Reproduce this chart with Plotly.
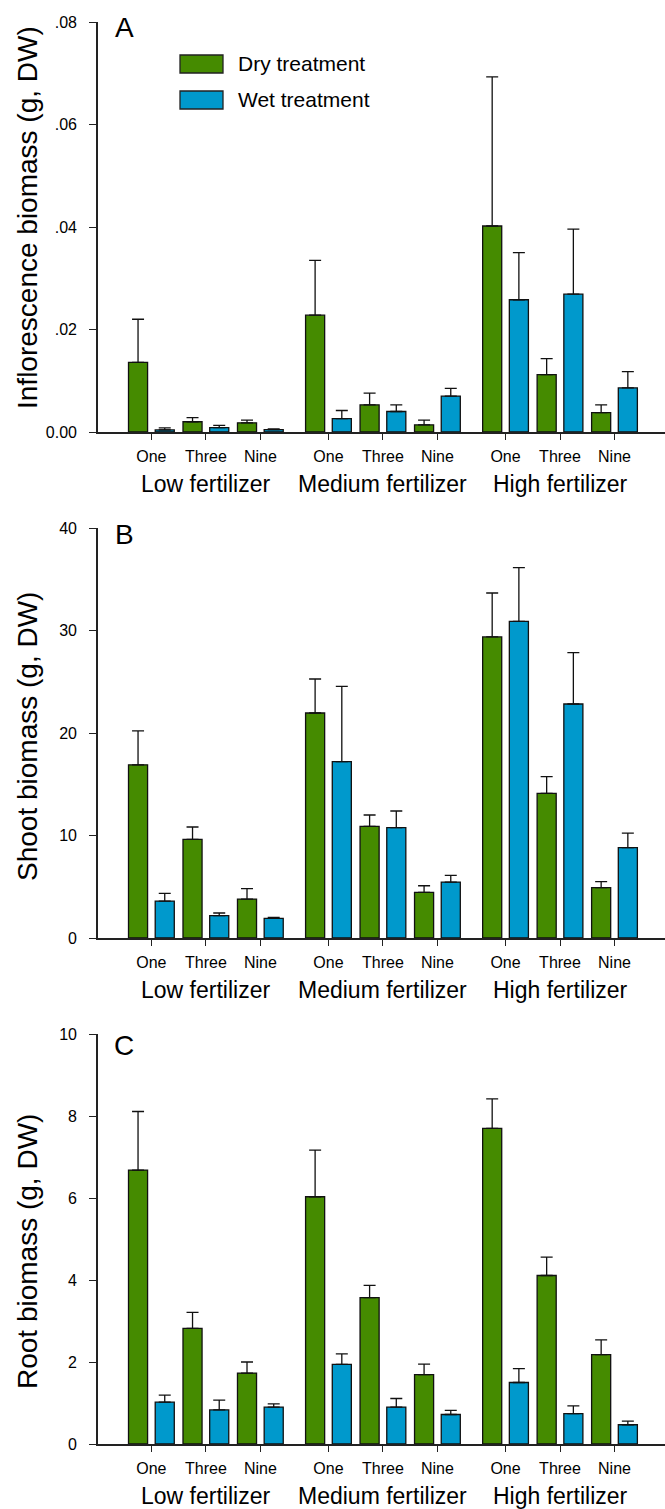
import plotly.graph_objects as go

# ---------------- data ----------------
fertilizers = ["Low fertilizer", "Medium fertilizer", "High fertilizer"]
levels = ["One", "Three", "Nine"]

# Panel A: inflorescence biomass (g, DW)
infl_dry = [0.0136, 0.0020, 0.0018, 0.0228, 0.0053, 0.0014, 0.0402, 0.0112, 0.0038]
infl_dry_top = [0.0220, 0.0028, 0.0023, 0.0335, 0.0076, 0.0023, 0.0693, 0.0143, 0.0053]
infl_wet = [0.0004, 0.00085, 0.00045, 0.0026, 0.0040, 0.0070, 0.0258, 0.0269, 0.0086]
infl_wet_top = [0.0008, 0.0013, 0.0006, 0.0042, 0.0053, 0.0085, 0.0350, 0.0396, 0.0118]

# Panel B: shoot biomass (g, DW)
shoot_dry = [16.9, 9.63, 3.80, 21.95, 10.9, 4.46, 29.37, 14.11, 4.91]
shoot_dry_top = [20.2, 10.83, 4.81, 25.27, 12.0, 5.10, 33.66, 15.74, 5.50]
shoot_wet = [3.60, 2.18, 1.92, 17.2, 10.76, 5.46, 30.9, 22.83, 8.81]
shoot_wet_top = [4.36, 2.44, 2.00, 24.55, 12.39, 6.11, 36.13, 27.84, 10.24]

# Panel C: root biomass (g, DW)
root_dry = [6.68, 2.82, 1.73, 6.03, 3.57, 1.69, 7.70, 4.11, 2.18]
root_dry_top = [8.11, 3.21, 2.00, 7.17, 3.87, 1.95, 8.42, 4.56, 2.54]
root_wet = [1.02, 0.83, 0.90, 1.94, 0.90, 0.72, 1.50, 0.74, 0.47]
root_wet_top = [1.19, 1.07, 0.98, 2.20, 1.11, 0.82, 1.84, 0.93, 0.56]

panels = [
    dict(letter="A", title="Inflorescence biomass (g, DW)", dry=infl_dry, dry_top=infl_dry_top,
         wet=infl_wet, wet_top=infl_wet_top, rng=[0, 0.08],
         tickvals=[0, 0.02, 0.04, 0.06, 0.08], ticktext=["0.00", ".02", ".04", ".06", ".08"]),
    dict(letter="B", title="Shoot biomass (g, DW)", dry=shoot_dry, dry_top=shoot_dry_top,
         wet=shoot_wet, wet_top=shoot_wet_top, rng=[0, 40],
         tickvals=[0, 10, 20, 30, 40], ticktext=["0", "10", "20", "30", "40"]),
    dict(letter="C", title="Root biomass (g, DW)", dry=root_dry, dry_top=root_dry_top,
         wet=root_wet, wet_top=root_wet_top, rng=[0, 10],
         tickvals=[0, 2, 4, 6, 8, 10], ticktext=["0", "2", "4", "6", "8", "10"]),
]

GREEN = "#458B00"
BLUE = "#0099CC"
FONT = "Liberation Sans, Arial, sans-serif"

W, H = 665, 1509
ML, MR, MT, MB = 98, 0, 22, 65
PW = W - ML
plot_h = H - MT - MB
# panel pixel extents (top, bottom) in page coordinates
panel_px = [(22, 432), (528, 938), (1034, 1444)]
title_cy = [218, 737, 1252]
letter_cy = [27, 534, 1045]

group_step = 3.25
positions = [g * group_step + i for g in range(3) for i in range(3)]
tick_text = [levels[i] for g in range(3) for i in range(3)]
off = 0.245
bw = 0.35
xr = [-0.98, 9.427]

fig = go.Figure()
layout = dict(
    width=W, height=H,
    margin=dict(l=ML, r=MR, t=MT, b=MB, autoexpand=False),
    plot_bgcolor="white", paper_bgcolor="white",
    showlegend=False, barmode="overlay",
    font=dict(family=FONT, color="black"),
)
annotations = []
shapes = []

for k, p in enumerate(panels):
    n = "" if k == 0 else str(k + 1)
    xa, ya = "x" + n, "y" + n
    top, bot = panel_px[k]
    hpx = bot - top
    dom = [(H - MB - bot) / plot_h, (H - MB - top) / plot_h]
    for vals, tops, color, sh in [(p["dry"], p["dry_top"], GREEN, -off),
                                  (p["wet"], p["wet_top"], BLUE, off)]:
        fig.add_trace(go.Bar(
            x=[v + sh for v in positions], y=vals, width=bw,
            marker=dict(color=color, line=dict(color="#111111", width=1.3)),
            error_y=dict(type="data", symmetric=False,
                         array=[t - v for t, v in zip(tops, vals)],
                         arrayminus=[0] * len(vals),
                         color="#111111", thickness=1.3, width=6),
            xaxis=xa, yaxis=ya,
        ))
    layout["xaxis" + n] = dict(
        domain=[0, 1], anchor=ya, range=xr, showgrid=False, zeroline=False,
        showline=True, linecolor="#222222", linewidth=1.6,
        tickmode="array", tickvals=positions, ticktext=tick_text,
        ticks="outside", ticklen=6, tickwidth=1.3, tickcolor="#222222",
        tickfont=dict(size=16, family=FONT), ticklabelstandoff=3,
    )
    layout["yaxis" + n] = dict(
        domain=dom, anchor=xa, range=p["rng"], showgrid=False, zeroline=False,
        showline=True, linecolor="#222222", linewidth=1.6,
        tickmode="array", tickvals=p["tickvals"], ticktext=p["ticktext"],
        ticks="outside", ticklen=7, tickwidth=1.3, tickcolor="#222222",
        tickfont=dict(size=16, family=FONT), ticklabelstandoff=9,
    )
    # y-axis title
    annotations.append(dict(text=p["title"], xref="paper", yref=ya + " domain",
                            x=(27 - ML) / PW, y=(bot - title_cy[k]) / hpx,
                            textangle=-90, xanchor="center", yanchor="middle",
                            showarrow=False,
                            font=dict(size=28, family=FONT, color="black")))
    # panel letter
    annotations.append(dict(text=p["letter"], xref=xa + " domain", yref=ya + " domain",
                            x=(124 - ML) / PW, y=(bot - letter_cy[k]) / hpx,
                            xanchor="center", yanchor="middle", showarrow=False,
                            font=dict(size=28, family=FONT, color="black")))
    # fertilizer group labels
    for g, name in enumerate(fertilizers):
        annotations.append(dict(text=name, xref=xa, yref=ya + " domain",
                                x=g * group_step + 1, y=0, yshift=-52,
                                xanchor="center", yanchor="middle", showarrow=False,
                                font=dict(size=23, family=FONT, color="black")))

# legend (drawn in panel A)
leg = [("Dry treatment", GREEN, 55, 73), ("Wet treatment", BLUE, 91, 109)]
for label, color, y0, y1 in leg:
    shapes.append(dict(type="rect", xref="x domain", yref="y domain",
                       x0=(180 - ML) / PW, x1=(223 - ML) / PW,
                       y0=(432 - y1) / 410, y1=(432 - y0) / 410,
                       fillcolor=color, line=dict(color="#222222", width=1.3)))
    annotations.append(dict(text=label, xref="x domain", yref="y domain",
                            x=(236 - ML) / PW, y=(432 - (y0 + y1) / 2) / 410,
                            xanchor="left", yanchor="middle", showarrow=False,
                            font=dict(size=21, family=FONT, color="black")))

layout["annotations"] = annotations
layout["shapes"] = shapes
fig.update_layout(**layout)
fig.write_html("out.html", config={"displayModeBar": False},
               post_script="document.body.style.margin='0';document.body.style.overflow='hidden';")
